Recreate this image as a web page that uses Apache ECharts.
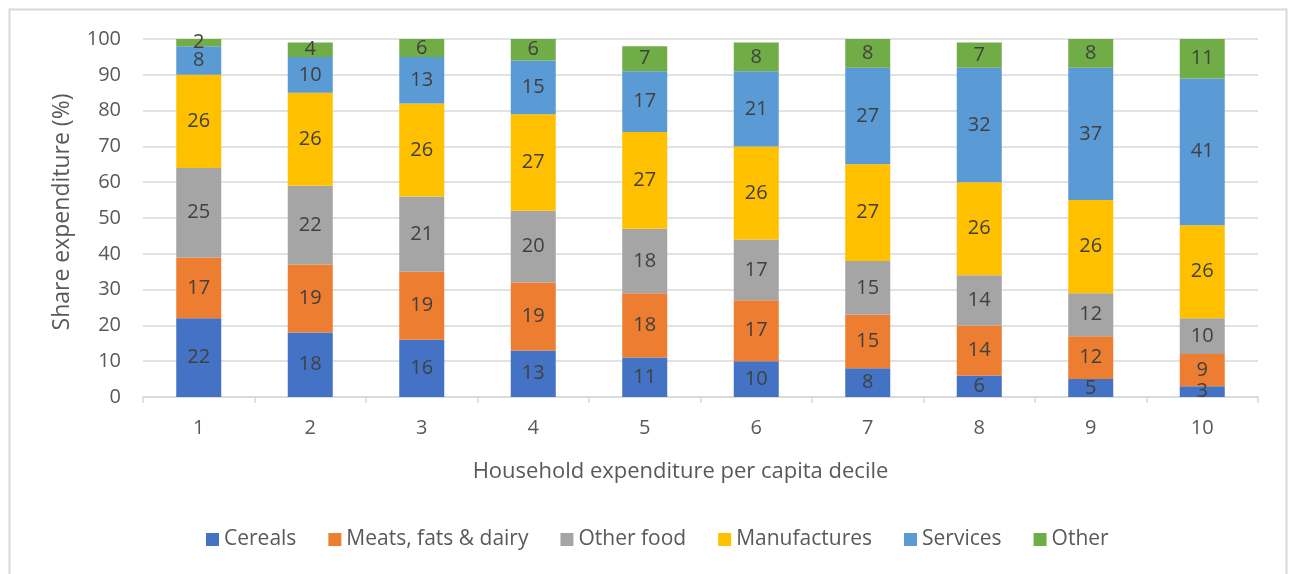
<!DOCTYPE html>
<html>
<head>
<meta charset="utf-8">
<script src="https://cdn.jsdelivr.net/npm/echarts@6/dist/echarts.min.js"></script>
<style>
  html, body { margin: 0; padding: 0; background: #ffffff; }
  #chart { width: 1291px; height: 574px; }
</style>
</head>
<body>
<div id="chart"></div>
<script>
// Budget shares (%) by household expenditure per capita decile
const deciles = ['1', '2', '3', '4', '5', '6', '7', '8', '9', '10'];
const cereals      = [22, 18, 16, 13, 11, 10, 8, 6, 5, 3];
const meatsDairy   = [17, 19, 19, 19, 18, 17, 15, 14, 12, 9];
const otherFood    = [25, 22, 21, 20, 18, 17, 15, 14, 12, 10];
const manufactures = [26, 26, 26, 27, 27, 26, 27, 26, 26, 26];
const services     = [8, 10, 13, 15, 17, 21, 27, 32, 37, 41];
const other        = [2, 4, 6, 6, 7, 8, 8, 7, 8, 11];
const yTicks = [0, 10, 20, 30, 40, 50, 60, 70, 80, 90, 100];

const FONT = '"Open Sans", "DejaVu Sans", sans-serif';
const TEXT = '#595959';

const groups = [
  { name: 'Cereals', data: cereals, color: '#4472C4' },
  { name: 'Meats, fats & dairy', data: meatsDairy, color: '#ED7D31' },
  { name: 'Other food', data: otherFood, color: '#A5A5A5' },
  { name: 'Manufactures', data: manufactures, color: '#FFC000' },
  { name: 'Services', data: services, color: '#5B9BD5' },
  { name: 'Other', data: other, color: '#70AD47' }
];

const chart = echarts.init(document.getElementById('chart'), null, { renderer: 'canvas' });

chart.setOption({
  backgroundColor: '#ffffff',
  animation: false,
  textStyle: { fontFamily: FONT },
  graphic: [
    {
      type: 'rect',
      shape: { x: 9.5, y: 9.5, width: 1277, height: 600 },
      style: { fill: 'none', stroke: '#d9d9d9', lineWidth: 2 },
      silent: true
    },
    {
      // vertical y-axis title
      type: 'text',
      x: 62,
      y: 212,
      rotation: Math.PI / 2,
      style: {
        text: 'Share expenditure (%)',
        fill: TEXT,
        font: '23px ' + FONT,
        textAlign: 'center',
        textVerticalAlign: 'middle'
      },
      silent: true
    }
  ],
  grid: { left: 143, right: 33, top: 39, bottom: 177, containLabel: false },
  legend: {
    bottom: 19,
    left: 201,
    icon: 'rect',
    itemWidth: 13,
    itemHeight: 13,
    itemGap: 32,
    textStyle: { color: TEXT, fontSize: 21, fontFamily: FONT },
    data: groups.map(g => g.name)
  },
  xAxis: {
    type: 'category',
    data: deciles,
    name: 'Household expenditure per capita decile',
    nameLocation: 'middle',
    nameGap: 64,
    nameTextStyle: { color: TEXT, fontSize: 22, fontFamily: FONT, padding: [0, 40, 0, 0] },
    axisLine: { lineStyle: { color: '#d9d9d9', width: 1.5 } },
    axisTick: { show: true, alignWithLabel: false, length: 6, lineStyle: { color: '#d9d9d9', width: 1.5 } },
    axisLabel: { color: TEXT, fontSize: 20, margin: 21, fontFamily: FONT }
  },
  yAxis: {
    type: 'value',
    min: yTicks[0],
    max: yTicks[yTicks.length - 1],
    interval: 10,
    axisLine: { show: false },
    axisTick: { show: false },
    axisLabel: { color: TEXT, fontSize: 20, margin: 22, fontFamily: FONT },
    splitLine: { lineStyle: { color: '#d9d9d9', width: 1.5 } }
  },
  series: groups.map(g => ({
    name: g.name,
    type: 'bar',
    stack: 'share',
    data: g.data,
    barWidth: 45,
    itemStyle: { color: g.color },
    label: {
      show: true,
      position: 'inside',
      color: '#404040',
      fontSize: 20,
      fontFamily: FONT
    }
  }))
});
</script>
</body>
</html>
